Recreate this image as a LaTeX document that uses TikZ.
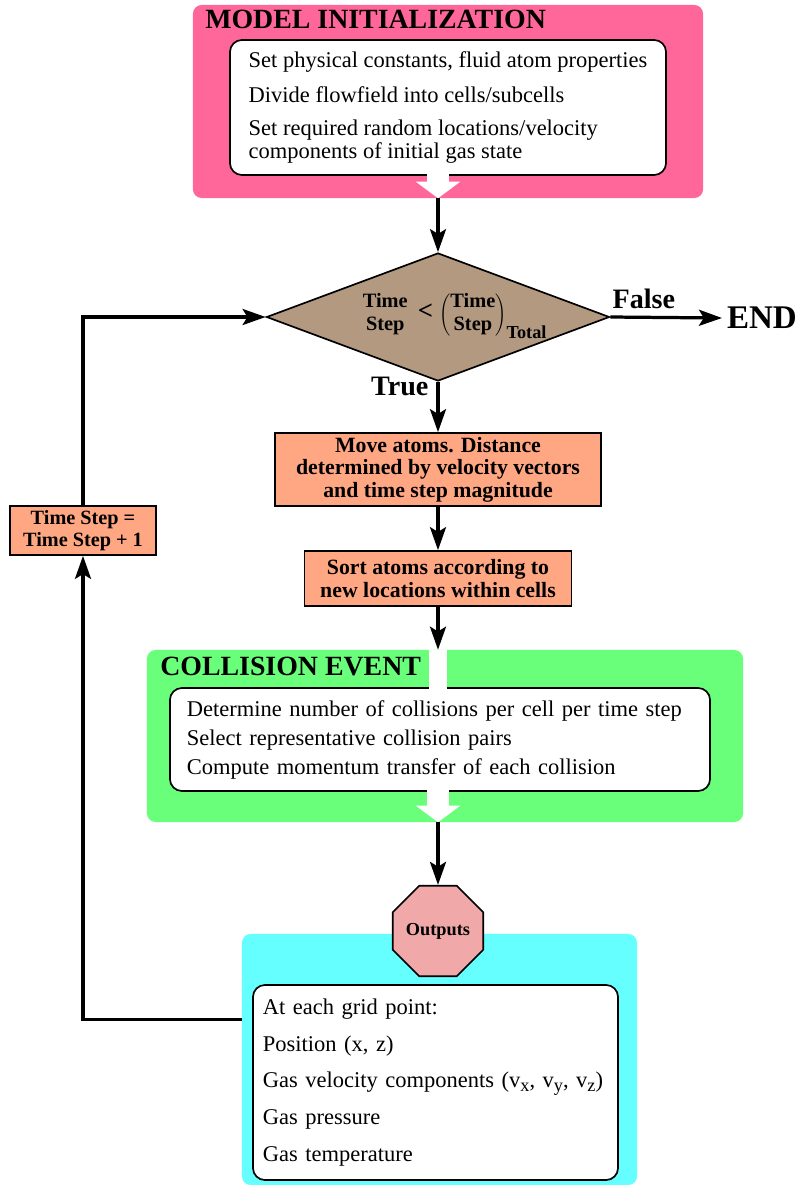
\documentclass[tikz,border=0pt]{standalone}
\usepackage{fontspec}
\setmainfont{Liberation Serif}
\usetikzlibrary{arrows.meta,shapes.geometric,positioning,calc}

\definecolor{initpink}{RGB}{255,102,153}
\definecolor{testtan}{RGB}{179,153,128}
\definecolor{procsalmon}{RGB}{255,166,130}
\definecolor{collgreen}{RGB}{106,255,122}
\definecolor{outcyan}{RGB}{102,255,255}
\definecolor{octrose}{RGB}{240,168,168}

\newcommand{\lowsub}[1]{\raisebox{-0.35ex}{\fontsize{13}{13}\selectfont #1}}

\tikzset{
  panel/.style={rounded corners=0.22cm, inner sep=0pt},
  paneltitle/.style={anchor=west, inner sep=0pt, font=\bfseries\fontsize{19.8}{22}\selectfont},
  listbox/.style={draw, fill=white, line width=1.2pt, rounded corners=0.3cm, inner sep=0pt, align=left},
  procbox/.style={draw, fill=procsalmon, line width=1.2pt, inner sep=0pt, align=center, font=\bfseries\fontsize{15.5}{16}\selectfont},
  decision/.style={diamond, draw, fill=testtan, line width=1.2pt, inner sep=0pt, aspect=2.68,
    minimum width=8.575cm, minimum height=3.2cm},
  testtext/.style={inner sep=0pt, font=\bfseries\fontsize{14.5}{16.4}\selectfont},
  flow/.style={line width=2.3pt, -{Stealth[length=0.575cm, width=0.4cm, inset=0.12cm]}},
  hollow/.style={white, line width=0.55cm, -{Triangle[length=0.42cm, width=1.1cm]}},
  bigword/.style={inner sep=0pt, font=\bfseries\fontsize{20}{24}\selectfont},
}

\begin{document}
\begin{tikzpicture}[x=0.025cm, y=-0.025cm]
\useasboundingbox (0,0) rectangle (800,1185);

% coloured panels
\node[panel, fill=initpink, minimum width=12.75cm, minimum height=4.825cm] (init) at (448,101.5) {};
\node[panel, fill=collgreen, minimum width=14.9cm, minimum height=4.3cm] (coll) at (445,736) {};
\node[panel, fill=outcyan, minimum width=9.875cm, minimum height=6.275cm] (out) at (439.5,1059.5) {};

\node[paneltitle] (inittitle) at (205,19.5) {MODEL INITIALIZATION};
\node[paneltitle] (colltitle) at (160,666) {COLLISION EVENT};

% white lists
\node[listbox, minimum width=10.9cm, minimum height=3.375cm, font=\fontsize{16}{16.4}\selectfont] (initlist) at (448,107.5)
  {Set physical constants, fluid atom properties\\[8pt]
   Divide flowfield into cells/subcells\\[7pt]
   Set required random locations/velocity\\
   components of initial gas state};
\node[listbox, text width=12.65cm, inner xsep=0.425cm, minimum height=2.575cm, font=\fontsize{16}{20.6}\selectfont] (colllist) at (440,739.5)
  {Determine number of collisions per cell per time step\\
   Select representative collision pairs\\
   Compute momentum transfer of each collision};
\node[listbox, text width=8.625cm, inner xsep=0.25cm, minimum height=4.875cm, font=\fontsize{16}{26.1}\selectfont] (outlist) at (435.5,1082.5)
  {At each grid point:\\
   Position (x, z)\\
   Gas velocity components (v\lowsub{x}, v\lowsub{y}, v\lowsub{z})\\
   Gas pressure\\
   Gas temperature};

\node[regular polygon, regular polygon sides=8, draw, fill=octrose, line width=1.2pt, minimum size=2.22cm, inner sep=0pt,
  font=\bfseries\fontsize{13}{15}\selectfont] (oct) at (438,931) {Outputs};

% main column
\node[decision] (test) at (438,317) {};
\node[testtext] (testlabel) at (455,315)
  {\begin{tabular}{@{}c@{}}Time\\ Step\end{tabular}\hspace{0.5em}{\fontsize{19}{19}\selectfont<}\hspace{0.3em}$\left(\mbox{\begin{tabular}{@{}c@{}}Time\\ Step\end{tabular}}\right)_{\mbox{\fontsize{13}{14}\selectfont Total}}$};
\node[procbox, minimum width=8.15cm, minimum height=1.825cm] (move) at (438,469.5)
  {Move atoms. Distance\\ determined by velocity vectors\\ and time step magnitude};
\node[procbox, minimum width=6.675cm, minimum height=1.375cm] (sort) at (438,578.5)
  {Sort atoms according to\\ new locations within cells};
\node[procbox, minimum width=3.65cm, minimum height=1.225cm, font=\bfseries\fontsize{14.4}{16}\selectfont] (inc) at (83,530.5)
  {Time Step =\\ Time Step + 1};
\node[anchor=west, inner xsep=0.12cm, inner ysep=0pt, font=\bfseries\fontsize{23.5}{26}\selectfont] (finish) at (722,318) {END};

% connectors
\draw[hollow] ($(initlist.south -| test.north)+(0,-2.4)$) -- (init.south -| test.north);
\draw[flow] (init.south -| test.north) -- (test.north);
\draw[flow] (test.east) -- node[pos=0.3, above=5pt, bigword] {False} (finish.west);
\draw[flow] (test.south) -- node[pos=0.1, left=0.2cm, bigword] {True} (move.north);
\draw[flow] (move.south) -- (sort.north);
\draw[flow] (sort.south) -- (coll.north -| sort.south);
\draw[white, line width=0.45cm] (coll.north -| sort.south) -- ($(colllist.north -| sort.south)+(0,2.4)$);
\draw[hollow] ($(colllist.south -| sort.south)+(0,-2.4)$) -- (coll.south -| sort.south);
\draw[flow] (coll.south -| oct.north) -- (oct.north);

% back to the test
\coordinate (tap) at ($(out.north west)+(0,86)$);
\draw[flow] (tap) -| (inc.south);
\draw[flow] (inc.north) |- (test.west);

\end{tikzpicture}
\end{document}
